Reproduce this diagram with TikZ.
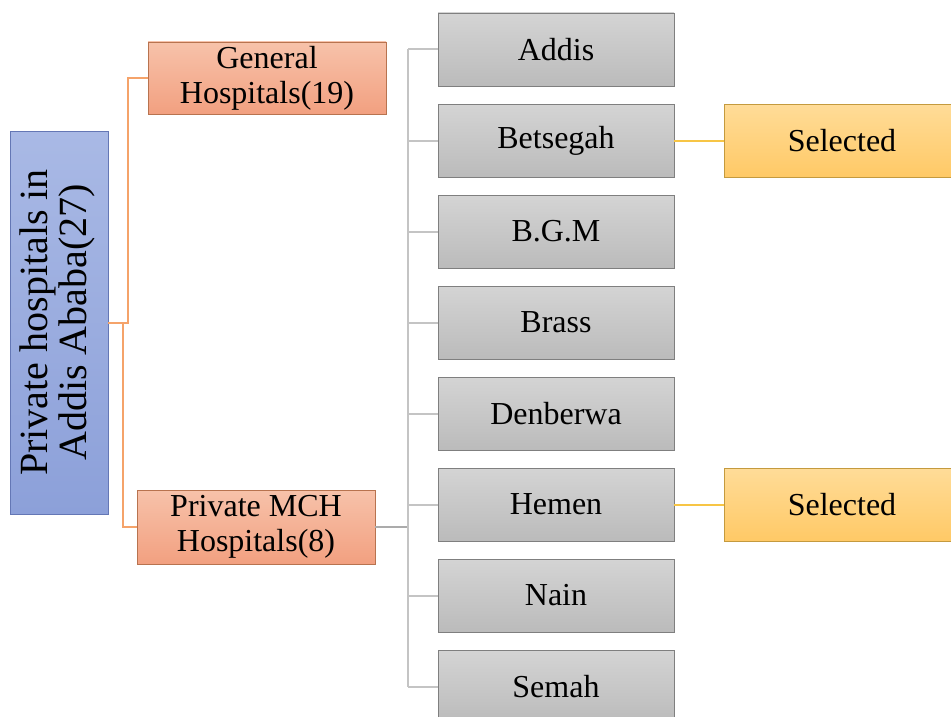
\documentclass[tikz,border=0pt]{standalone}
\usepackage{fontspec}
\setmainfont{Liberation Serif}
\definecolor{bluetop}{HTML}{A9B9E5}
\definecolor{bluebot}{HTML}{8CA0D9}
\definecolor{blueedge}{HTML}{6477B5}
\definecolor{saltop}{HTML}{F7C2AA}
\definecolor{salbot}{HTML}{F2A080}
\definecolor{saledge}{HTML}{B8734F}
\definecolor{graytop}{HTML}{D4D4D4}
\definecolor{graybot}{HTML}{BBBBBB}
\definecolor{grayedge}{HTML}{7F7F7F}
\definecolor{seltop}{HTML}{FFDC98}
\definecolor{selbot}{HTML}{FFC966}
\definecolor{seledge}{HTML}{C49A3E}
\definecolor{orangeline}{HTML}{F5A36A}
\definecolor{grayline}{HTML}{C4C4C4}
\definecolor{graytrunk}{HTML}{ABABAB}
\definecolor{yelline}{HTML}{F7C545}
\begin{document}
\begin{tikzpicture}[x=1pt,y=-1pt,
  box/.style={draw, line width=0.9pt, inner sep=0pt, align=center, font=\fontsize{32}{35}\selectfont, text=black},
  rootbox/.style={box, draw=blueedge, top color=bluetop, bottom color=bluebot, minimum width=98pt, minimum height=383pt},
  catbox/.style={box, draw=saledge, top color=saltop, bottom color=salbot, minimum width=238pt},
  hospbox/.style={box, draw=grayedge, top color=graytop, bottom color=graybot, minimum width=236pt, minimum height=73pt},
  selbox/.style={box, draw=seledge, top color=seltop, bottom color=selbot, minimum width=236pt, minimum height=73pt},
  orangelink/.style={draw=orangeline, line width=2pt},
  graylink/.style={draw=grayline, line width=2pt},
  trunklink/.style={draw=graytrunk, line width=2.8pt},
  yellink/.style={draw=yelline, line width=2pt},
]
\useasboundingbox (0,0) rectangle (951,717);
\clip (0,0) rectangle (951,717);

% nodes
\node[rootbox] (root) at (59,322.5) {\rotatebox{90}{\fontsize{40}{39}\selectfont\begin{tabular}{@{}c@{}}Private hospitals in\\Addis Ababa(27)\end{tabular}}};
\node[catbox, minimum height=72pt] (gen) at (267,78) {General\\Hospitals(19)};
\node[catbox, minimum height=74pt] (mch) at (256,527) {Private MCH\\Hospitals(8)};

\node[hospbox] (h1) at (556,49.5) {Addis};
\node[hospbox] (h2) at (556,140.5) {Betsegah};
\node[hospbox] (h3) at (556,231.5) {B.G.M};
\node[hospbox] (h4) at (556,322.5) {Brass};
\node[hospbox] (h5) at (556,413.5) {Denberwa};
\node[hospbox] (h6) at (556,504.5) {Hemen};
\node[hospbox] (h7) at (556,595.5) {Nain};
\node[hospbox] (h8) at (556,686.5) {Semah};

\node[selbox] (s1) at (842,140.5) {Selected};
\node[selbox] (s2) at (842,504.5) {Selected};

% connectors
\draw[orangelink] (root.east) -- ++(20,0) |- (gen.west);
\draw[orangelink] (root.east) -- ++(14.5,0) |- (mch.west);

\coordinate (trunk) at (408,527);
\draw[trunklink] (mch.east) -- (trunk);
\draw[graylink] (h1.west -| trunk) -- (h8.west -| trunk);
\foreach \h in {h1,h2,h3,h4,h5,h6,h7,h8}{
  \draw[graylink] (\h.west -| trunk) -- (\h.west);
}

\draw[yellink] (h2.east) -- (s1.west);
\draw[yellink] (h6.east) -- (s2.west);
\end{tikzpicture}
\end{document}
